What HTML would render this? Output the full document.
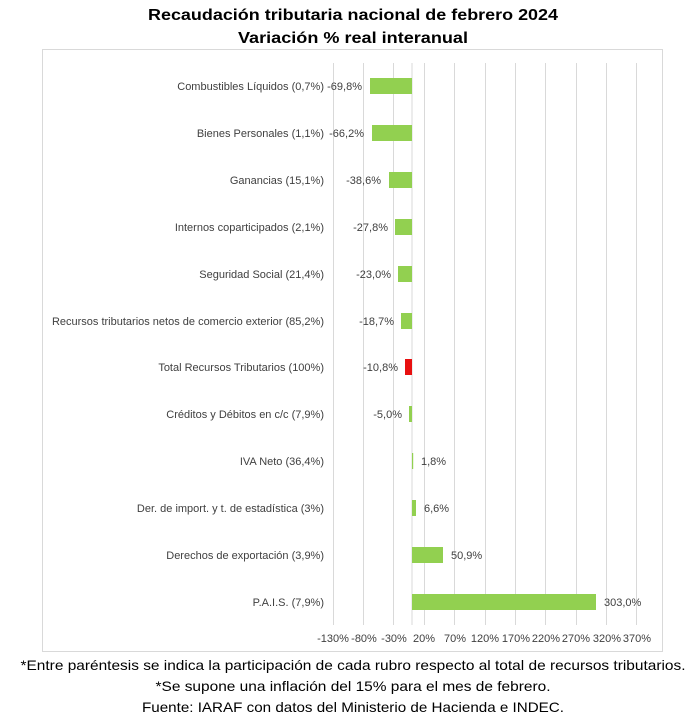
<!DOCTYPE html>
<html><head><meta charset="utf-8"><style>
html,body{margin:0;padding:0;background:#fff;}
svg{display:block;font-family:"Liberation Sans",Arial,sans-serif;}
</style></head><body>
<svg width="691" height="728" viewBox="0 0 691 728" xmlns="http://www.w3.org/2000/svg">
<rect width="691" height="728" fill="#fff"/>
<text x="353" y="20" font-size="16" font-weight="bold" text-anchor="middle" textLength="410" lengthAdjust="spacingAndGlyphs">Recaudación tributaria nacional de febrero 2024</text>
<text x="353" y="43" font-size="16" font-weight="bold" text-anchor="middle" textLength="230" lengthAdjust="spacingAndGlyphs">Variación % real interanual</text>
<rect x="42.5" y="49.5" width="620" height="602" fill="none" stroke="#d9d9d9" stroke-width="1"/>
<g stroke="#d9d9d9" stroke-width="1">
<line x1="333.5" y1="63" x2="333.5" y2="625"/>
<line x1="363.5" y1="63" x2="363.5" y2="625"/>
<line x1="393.5" y1="63" x2="393.5" y2="625"/>
<line x1="424.5" y1="63" x2="424.5" y2="625"/>
<line x1="454.5" y1="63" x2="454.5" y2="625"/>
<line x1="485.5" y1="63" x2="485.5" y2="625"/>
<line x1="515.5" y1="63" x2="515.5" y2="625"/>
<line x1="545.5" y1="63" x2="545.5" y2="625"/>
<line x1="576.5" y1="63" x2="576.5" y2="625"/>
<line x1="606.5" y1="63" x2="606.5" y2="625"/>
<line x1="636.5" y1="63" x2="636.5" y2="625"/>
<line x1="412" y1="63" x2="412" y2="625"/>
</g>
<g font-size="11" fill="#404040">
<g text-anchor="end">
<text x="324" y="90">Combustibles Líquidos (0,7%)</text>
<text x="324" y="137">Bienes Personales (1,1%)</text>
<text x="324" y="184">Ganancias (15,1%)</text>
<text x="324" y="231">Internos coparticipados (2,1%)</text>
<text x="324" y="278">Seguridad Social (21,4%)</text>
<text x="324" y="325">Recursos tributarios netos de comercio exterior (85,2%)</text>
<text x="324" y="371">Total Recursos Tributarios (100%)</text>
<text x="324" y="418">Créditos y Débitos en c/c (7,9%)</text>
<text x="324" y="465">IVA Neto (36,4%)</text>
<text x="324" y="512">Der. de import. y t. de estadística (3%)</text>
<text x="324" y="559">Derechos de exportación (3,9%)</text>
<text x="324" y="606">P.A.I.S. (7,9%)</text>
<text x="362" y="90">-69,8%</text>
<text x="364" y="137">-66,2%</text>
<text x="381" y="184">-38,6%</text>
<text x="388" y="231">-27,8%</text>
<text x="391" y="278">-23,0%</text>
<text x="394" y="325">-18,7%</text>
<text x="398" y="371">-10,8%</text>
<text x="402" y="418">-5,0%</text>
</g>
<text x="421" y="465">1,8%</text>
<text x="424" y="512">6,6%</text>
<text x="451" y="559">50,9%</text>
<text x="604" y="606">303,0%</text>
</g>
<g fill="#92d050">
<rect x="370" y="78" width="42" height="16"/>
<rect x="372" y="125" width="40" height="16"/>
<rect x="389" y="172" width="23" height="16"/>
<rect x="395" y="219" width="17" height="16"/>
<rect x="398" y="266" width="14" height="16"/>
<rect x="401" y="313" width="11" height="16"/>
<rect x="409" y="406" width="3" height="16"/>
<rect x="412" y="453" width="1.2" height="16"/>
<rect x="412" y="500" width="4" height="16"/>
<rect x="412" y="547" width="31" height="16"/>
<rect x="412" y="594" width="184" height="16"/>
</g>
<rect x="405" y="359" width="7" height="16" fill="#e81010"/>
<g font-size="11" fill="#404040" text-anchor="middle">
<text x="333" y="642">-130%</text>
<text x="364" y="642">-80%</text>
<text x="394" y="642">-30%</text>
<text x="424" y="642">20%</text>
<text x="455" y="642">70%</text>
<text x="485" y="642">120%</text>
<text x="516" y="642">170%</text>
<text x="546" y="642">220%</text>
<text x="576" y="642">270%</text>
<text x="607" y="642">320%</text>
<text x="637" y="642">370%</text>
</g>
<g font-size="14" text-anchor="middle" fill="#000">
<text x="353" y="670" textLength="665" lengthAdjust="spacingAndGlyphs">*Entre paréntesis se indica la participación de cada rubro respecto al total de recursos tributarios.</text>
<text x="353" y="691" textLength="395" lengthAdjust="spacingAndGlyphs">*Se supone una inflación del 15% para el mes de febrero.</text>
<text x="353" y="712" textLength="422" lengthAdjust="spacingAndGlyphs">Fuente: IARAF con datos del Ministerio de Hacienda e INDEC.</text>
</g>
</svg>
</body></html>
